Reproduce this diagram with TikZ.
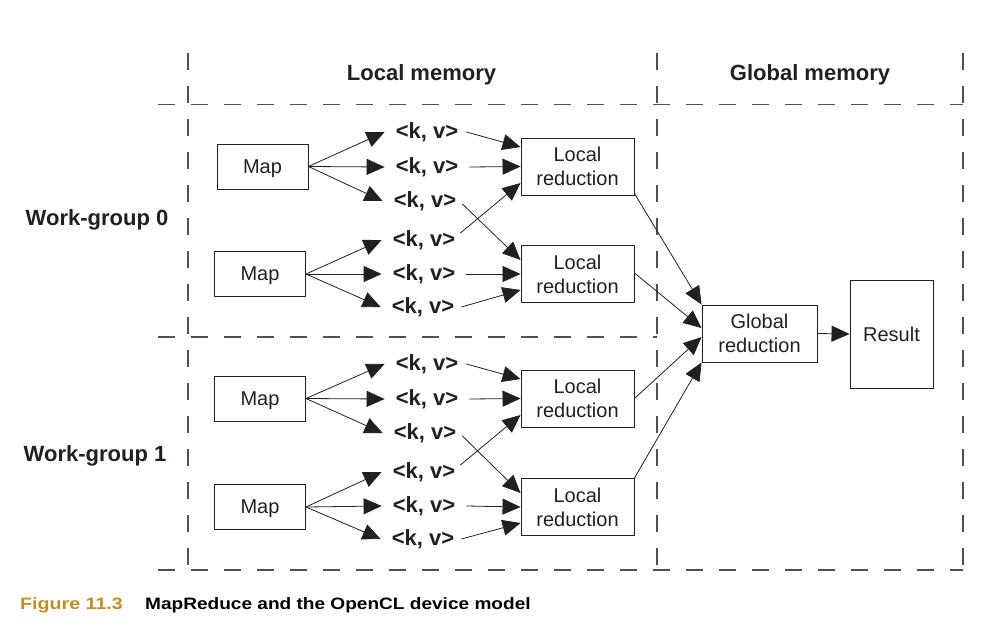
\documentclass[tikz,border=0pt]{standalone}
\usepackage{fontspec}
\usepackage{graphicx}
\setmainfont{Liberation Sans}
\usetikzlibrary{arrows.meta}
\definecolor{ink}{RGB}{35,31,32}
\definecolor{dashgray}{RGB}{80,80,80}
\definecolor{figgold}{RGB}{192,142,38}
\begin{document}
\begin{tikzpicture}[x=1pt,y=-1pt,
  every node/.style={text=ink},
  mapbox/.style={draw=ink, line width=0.9pt, minimum width=91pt, minimum height=45pt, inner sep=0pt, text depth=0pt, font=\fontsize{20}{24}\selectfont},
  redbox/.style={draw=ink, line width=0.9pt, minimum width=113pt, minimum height=57pt, inner sep=0pt, align=center, font=\fontsize{20}{24}\selectfont},
  kv/.style={inner xsep=11pt, inner ysep=0pt, font=\bfseries\fontsize{22}{26}\selectfont},
  title/.style={anchor=base, inner sep=0pt, font=\bfseries\fontsize{22}{26}\selectfont},
  arr/.style={draw=ink, line width=0.8pt, -{Triangle[length=18pt,width=16pt]}},
  region/.style={draw=dashgray, line width=1.2pt, dash pattern=on 17pt off 16pt}
]
\useasboundingbox (0,0) rectangle (986,635);

% dashed regions
\draw[region] (188,53) -- (188,570);
\draw[region] (657,53) -- (657,570);
\draw[region] (963,53) -- (963,570);
\draw[region] (158,104.5) -- (963,104.5);
\draw[region] (158,337) -- (657,337);
\draw[region] (158,570) -- (963,570);

% titles
\node[title] (tlocal) at (421.5,80) {Local memory};
\node[title] (tglobal) at (810,80) {Global memory};
\node[title] (wg0) at (97,225) {Work-group 0};
\node[title] (wg1) at (95,461) {Work-group 1};

% map boxes
\node[mapbox] (map1) at (262.5,166.5) {Map};
\node[mapbox] (map2) at (260,274) {Map};
\node[mapbox] (map3) at (260,398.5) {Map};
\node[mapbox] (map4) at (260,507) {Map};

% local reduction boxes
\node[redbox] (lr1) at (577.5,166.5) {Local\\reduction};
\node[redbox] (lr2) at (577.5,274) {Local\\reduction};
\node[redbox] (lr3) at (577.5,398.5) {Local\\reduction};
\node[redbox] (lr4) at (577.5,507) {Local\\reduction};

% global
\node[redbox, minimum width=115pt] (glob) at (759.5,333.5) {Global\\reduction};
\node[redbox, minimum width=83pt, minimum height=108pt, text depth=0pt] (res) at (891.5,334) {Result};

% key/value pairs
\node[kv] (a1) at (427,132) {<k, v>};
\node[kv] (a2) at (427,167) {<k, v>};
\node[kv] (a3) at (425,201) {<k, v>};
\node[kv] (a4) at (424,240) {<k, v>};
\node[kv] (a5) at (424,274) {<k, v>};
\node[kv] (a6) at (423,307) {<k, v>};
\node[kv] (b1) at (427,364) {<k, v>};
\node[kv] (b2) at (427,399) {<k, v>};
\node[kv] (b3) at (425,433) {<k, v>};
\node[kv] (b4) at (424,472) {<k, v>};
\node[kv] (b5) at (424,506) {<k, v>};
\node[kv] (b6) at (423,539) {<k, v>};

% map -> kv
\foreach \m/\x/\y/\z in {map1/a1/a2/a3, map2/a4/a5/a6, map3/b1/b2/b3, map4/b4/b5/b6}{
  \draw[arr] (\m.east) -- (\x.west);
  \draw[arr] (\m.east) -- (\y.west);
  \draw[arr] (\m.east) -- (\z.west);
}

% kv -> local reduction
\foreach \p/\q/\r in {a/lr1/lr2, b/lr3/lr4}{
  \draw[arr] ([xshift=-3pt]\p1.east) -- ([yshift=19.5pt]\q.west);
  \draw[arr] (\p2.east) -- (\q.west);
  \draw[arr] ([shift={(-5pt,-3pt)}]\p3.east) -- ([yshift=14pt]\r.west);
  \draw[arr] ([shift={(-6pt,7pt)}]\p4.east) -- ([yshift=-16.5pt]\q.west);
  \draw[arr] (\p5.east) -- (\r.west);
  \draw[arr] ([xshift=-4pt]\p6.east) -- ([yshift=-16pt]\r.west);
}

% local -> global
\draw[arr] ([yshift=2pt]lr1.south east) -- (glob.north west);
\draw[arr] ([yshift=1pt]lr2.east) -- ([yshift=5.5pt]glob.west);
\draw[arr] (lr3.east) -- ([yshift=-3.5pt]glob.west);
\draw[arr] (lr4.north east) -- (glob.south west);

% global -> result
\draw[arr] (glob.east) -- (res.west);

% caption
\node[anchor=base west, inner sep=0pt, font=\bfseries\fontsize{16.5}{19}\selectfont, text=figgold] (fig) at (20,609) {\scalebox{1.19}[1]{Figure 11.3}};
\node[anchor=base west, inner sep=0pt, font=\bfseries\fontsize{16.5}{19}\selectfont, text=black] (cap) at (145,609) {\scalebox{1.155}[1]{MapReduce and the OpenCL device model}};
\end{tikzpicture}
\end{document}
